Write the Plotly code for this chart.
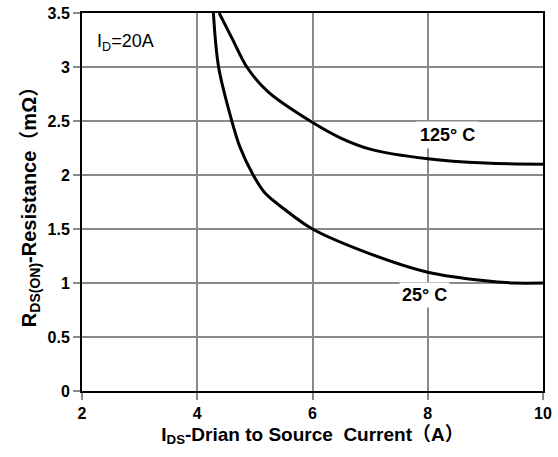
import plotly.graph_objects as go

# Drain current (A) and on-resistance (mOhm) at two junction temperatures
ids_25 = [4.28, 4.37, 4.60, 4.74, 4.97, 5.18, 5.52, 6.0, 7.0, 8.0, 9.0, 9.5, 10.0]
rds_25 = [3.50, 3.00, 2.50, 2.26, 2.00, 1.83, 1.68, 1.50, 1.27, 1.10, 1.02, 1.00, 1.00]

ids_125 = [4.38, 4.60, 4.86, 5.23, 5.96, 6.5, 7.0, 8.0, 9.0, 10.0]
rds_125 = [3.50, 3.27, 3.00, 2.77, 2.50, 2.34, 2.24, 2.15, 2.11, 2.10]

x_ticks = [2, 4, 6, 8, 10]
y_ticks = [0, 0.5, 1, 1.5, 2, 2.5, 3, 3.5]
y_tick_text = ["0", "0.5", "1", "1.5", "2", "2.5", "3", "3.5"]

FONT = "Liberation Sans, Arial, Noto Sans CJK SC, sans-serif"

fig = go.Figure()
for xs, ys in [(ids_25, rds_25), (ids_125, rds_125)]:
    fig.add_trace(go.Scatter(
        x=xs, y=ys, mode="lines",
        line=dict(color="black", width=3, shape="spline", smoothing=0.9),
        showlegend=False, hoverinfo="skip",
    ))

# temperature labels sit on white boxes that cut through the grid
fig.add_annotation(x=8.34, y=2.37, text="<b>125° C</b>", showarrow=False,
                   bgcolor="white", font=dict(size=18, color="black", family=FONT),
                   borderpad=3)
fig.add_annotation(x=7.95, y=0.89, text="<b>25° C</b>", showarrow=False,
                   bgcolor="white", font=dict(size=18, color="black", family=FONT),
                   borderpad=2)
fig.add_annotation(x=2.75, y=3.23, text="I<sub>D</sub>=20A", showarrow=False,
                   font=dict(size=18, color="black", family=FONT))

axis_common = dict(
    showgrid=True, gridcolor="#8a8a8a", gridwidth=2,
    showline=True, linecolor="black", linewidth=2, mirror=True,
    ticks="outside", ticklen=7, tickwidth=2, tickcolor="#8a8a8a",
    tickfont=dict(size=16, color="black", family=FONT),
    zeroline=False, automargin=False,
)

fig.update_xaxes(range=[2, 10], tickvals=x_ticks, ticktext=[f"<b>{t}</b>" for t in x_ticks],
                 title=dict(text="<b>I<sub>DS</sub>-Drian to Source  Current（A）</b>",
                            font=dict(size=19, color="black", family=FONT), standoff=6),
                 **axis_common)
fig.update_yaxes(range=[0, 3.5], tickvals=y_ticks, ticktext=[f"<b>{t}</b>" for t in y_tick_text],
                 title=dict(text="<b>R<sub>DS(ON)</sub>-Resistance（mΩ）</b>",
                            font=dict(size=20, color="black", family=FONT), standoff=6),
                 **axis_common)

fig.update_layout(
    width=558, height=457,
    margin=dict(l=82, r=15, t=13, b=66),
    plot_bgcolor="white", paper_bgcolor="white",
)

fig.write_html("out.html", post_script="document.body.style.margin='0';")
